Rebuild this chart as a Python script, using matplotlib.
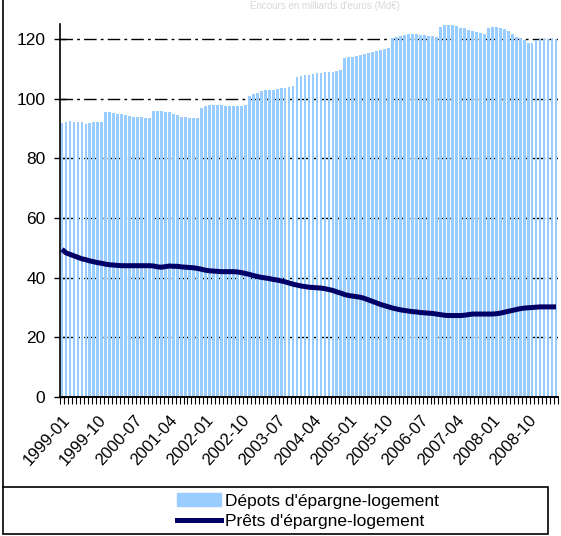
import matplotlib
matplotlib.use("Agg")
import matplotlib.pyplot as plt
import matplotlib.patches as mpatches
from matplotlib.lines import Line2D
import numpy as np
import pandas as pd

plt.rcParams['font.family'] = ['Liberation Sans', 'DejaVu Sans']

# Monthly outstanding amounts, 1999-01 .. 2009-05 (billions of euros)
months = pd.period_range("1999-01", "2009-05", freq="M").strftime("%Y-%m").tolist()

depots = [
    # 1999
    91.8, 92.3, 92.4, 92.3, 92.0, 92.0, 91.6, 91.9, 92.0, 92.0, 92.3, 95.5,
    # 2000
    95.5, 95.3, 95.0, 94.8, 94.5, 94.2, 94.0, 94.0, 93.8, 93.5, 93.4, 95.9,
    # 2001
    95.8, 95.7, 95.6, 95.4, 95.0, 94.6, 94.0, 93.7, 93.5, 93.5, 93.6, 97.0,
    # 2002
    97.5, 97.8, 98.0, 98.0, 97.8, 97.5, 97.5, 97.4, 97.5, 97.6, 97.9, 101.0,
    # 2003
    101.5, 102.0, 102.5, 103.0, 103.0, 103.0, 103.2, 103.5, 103.5, 104.0, 104.3, 107.3,
    # 2004
    107.5, 107.8, 108.0, 108.3, 108.5, 108.5, 108.8, 109.0, 109.0, 109.2, 109.5, 113.6,
    # 2005
    113.8, 114.0, 114.3, 114.6, 115.0, 115.3, 115.6, 115.9, 116.2, 116.6, 117.0, 120.3,
    # 2006
    120.6, 121.0, 121.3, 121.5, 121.5, 121.5, 121.3, 121.2, 121.0, 121.0, 120.5, 124.0,
    # 2007
    124.7, 124.8, 124.5, 124.2, 123.8, 123.5, 123.0, 122.7, 122.3, 122.0, 121.8, 123.8,
    # 2008
    124.0, 124.0, 123.8, 123.3, 122.5, 121.5, 120.8, 120.2, 119.5, 118.8, 118.6, 119.8,
    # 2009
    120.0, 120.0, 120.0, 120.2, 120.0,
]

prets = [
    49.5, 48.3, 47.8, 47.3, 46.8, 46.3, 46.0, 45.6, 45.3, 45.0, 44.8, 44.5,
    44.3, 44.2, 44.1, 44.0, 44.0, 44.0, 44.0, 44.0, 44.0, 44.0, 44.0, 43.9,
    43.6, 43.5, 43.7, 43.9, 43.8, 43.8, 43.6, 43.5, 43.4, 43.3, 43.1, 42.8,
    42.5, 42.3, 42.2, 42.1, 42.0, 42.0, 42.0, 42.0, 41.9, 41.7, 41.4, 41.1,
    40.7, 40.4, 40.1, 39.9, 39.7, 39.4, 39.2, 38.9, 38.6, 38.2, 37.8, 37.5,
    37.2, 37.0, 36.8, 36.7, 36.6, 36.5, 36.3, 36.0, 35.7, 35.2, 34.8, 34.3,
    34.0, 33.8, 33.6, 33.4, 33.0, 32.5, 32.0, 31.5, 31.0, 30.6, 30.2, 29.8,
    29.5, 29.2, 29.0, 28.8, 28.6, 28.5, 28.3, 28.2, 28.1, 28.0, 27.8, 27.6,
    27.4, 27.3, 27.3, 27.3, 27.3, 27.4, 27.6, 27.8, 27.8, 27.8, 27.8, 27.8,
    27.8, 27.9, 28.1, 28.4, 28.7, 29.0, 29.3, 29.6, 29.8, 29.9, 30.0, 30.1,
    30.2, 30.2, 30.2, 30.2, 30.2,
]

label_depots = "Dépots d'épargne-logement"
label_prets = "Prêts d'épargne-logement"
y_ticks = [0, 20, 40, 60, 80, 100, 120]

W, H = 561, 536
fig = plt.figure(figsize=(W / 100, H / 100), dpi=100)
ax = fig.add_axes([60 / W, 1 - 397 / H, 498 / W, 373 / H])

x = np.arange(len(months))
ax.bar(x, depots, width=0.7, color="#99CCFF", edgecolor="none", zorder=2)
ax.plot(x, prets, color="#000066", lw=3.6, solid_capstyle="butt", zorder=3)

ax.set_xlim(-0.5, len(months) - 0.5)
ax.set_ylim(0, 125)
ax.set_yticks(y_ticks)
ax.set_yticklabels([str(v) for v in y_ticks], fontsize=12.5)
ax.tick_params(axis="y", direction="inout", length=9, width=1, pad=6)

# category labels every 9 months, tick marks on every month boundary
ax.set_xticks(x[::9])
ax.set_xticklabels(months[::9], rotation=48, ha="right", va="top",
                   rotation_mode="anchor", fontsize=12)
ax.tick_params(axis="x", which="major", length=0, pad=11)
ax.set_xticks(np.arange(-0.5, len(months), 1.0), minor=True)
ax.tick_params(axis="x", which="minor", direction="out", length=5, width=0.8)

for s in ("top", "right"):
    ax.spines[s].set_visible(False)
ax.spines["left"].set_linewidth(1.2)
ax.spines["bottom"].set_linewidth(1.4)

ax.set_axisbelow(True)
ax.yaxis.grid(True, color="black", linestyle=(0, (9, 3, 2, 3)), lw=1.0, zorder=1)

# faint header at the very top
fig.text(0.58, 0.999, "Encours en milliards d'euros (Md€)", ha="center", va="top",
         fontsize=7, color="#d8d8d8")

# left frame line and legend box
fig.add_artist(Line2D([3 / W, 3 / W], [1 - 487 / H, 1.0], transform=fig.transFigure,
                      color="black", lw=1.2))
fig.add_artist(mpatches.Rectangle((3 / W, 1 - 534 / H), 545 / W, 47 / H,
                                  transform=fig.transFigure, fill=False,
                                  edgecolor="black", lw=1.2))

handles = [mpatches.Patch(color="#99CCFF", label=label_depots),
           Line2D([], [], color="#000066", lw=3.6, label=label_prets)]
fig.legend(handles=handles, loc="upper left", bbox_to_anchor=(174 / W, 1 - 490 / H),
           frameon=False, fontsize=12.5, handlelength=2.5, handletextpad=0.25,
           labelspacing=0.3, borderpad=0.2, borderaxespad=0)

fig.savefig("out.png", dpi=100)
